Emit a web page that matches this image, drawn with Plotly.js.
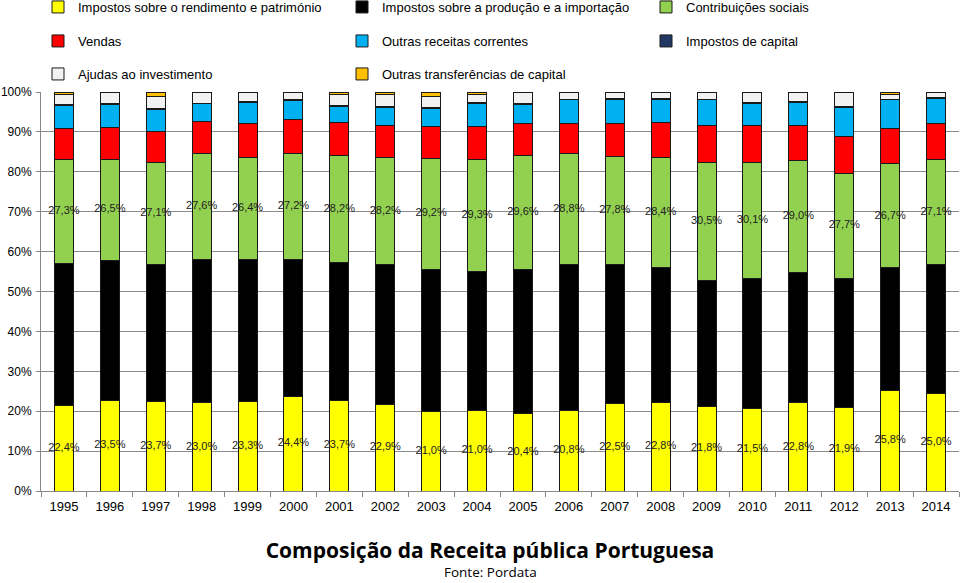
<!DOCTYPE html>
<html>
<head>
<meta charset="utf-8">
<script src="https://cdn.plot.ly/plotly-3.0.1.min.js"></script>
<style>html,body{margin:0;padding:0;background:#fff;}#chart{width:960px;height:583px;}</style>
</head>
<body>
<div id="chart"></div>
<script>
var years = ['1995','1996','1997','1998','1999','2000','2001','2002','2003','2004','2005','2006','2007','2008','2009','2010','2011','2012','2013','2014'];

var rendimento   = [21.5,22.7,22.5,22.1,22.5,23.7,22.7,21.8,20.0,20.3,19.5,20.3,21.9,22.3,21.2,20.7,22.1,20.9,25.2,24.4];
var producao     = [35.4,35.1,34.3,35.9,35.5,34.4,34.5,34.9,35.6,34.7,36.1,36.4,34.9,33.8,31.6,32.6,32.7,32.4,30.7,32.3];
var contribuicoes= [26.2,25.4,25.6,26.6,25.5,26.5,26.9,26.8,27.8,28.2,28.5,27.9,27.1,27.5,29.6,29.1,28.1,26.4,26.1,26.3];
var vendas       = [7.8,7.8,7.8,8.1,8.6,8.6,8.2,8.0,7.9,8.1,8.0,7.6,8.2,8.7,9.3,9.1,8.6,9.2,8.8,9.0];
var outrasCorr   = [5.8,5.8,5.5,4.3,5.2,4.6,4.0,4.6,4.6,5.8,4.8,5.8,6.0,5.8,6.3,5.5,5.9,7.1,7.2,6.4];
var impCapital   = [0.2,0.2,0.2,0.2,0.2,0.2,0.2,0.2,0.2,0.2,0.2,0.2,0.2,0.2,0.2,0.3,0.2,0.4,0.1,0.2];
var ajudas       = [2.4,2.9,3.0,2.8,2.4,2.0,2.8,3.2,2.8,2.1,2.9,1.8,1.7,1.7,1.8,2.7,2.4,3.6,1.2,1.3];
var outrasTransf = [0.7,0.1,1.1,0.0,0.1,0.0,0.7,0.5,1.1,0.6,0.0,0.0,0.0,0.0,0.0,0.0,0.0,0.0,0.7,0.1];

var labelsRendimento = ['22,4%','23,5%','23,7%','23,0%','23,3%','24,4%','23,7%','22,9%','21,0%','21,0%','20,4%','20,8%','22,5%','22,8%','21,8%','21,5%','22,8%','21,9%','25,8%','25,0%'];
var labelsContrib    = ['27,3%','26,5%','27,1%','27,6%','26,4%','27,2%','28,2%','28,2%','29,2%','29,3%','29,6%','28,8%','27,8%','28,4%','30,5%','30,1%','29,0%','27,7%','26,7%','27,1%'];

var yTickVals  = [0,10,20,30,40,50,60,70,80,90,100];
var yTickTexts = ['0%','10%','20%','30%','40%','50%','60%','70%','80%','90%','100%'];

var seriesNames = ['Impostos sobre o rendimento e património','Impostos sobre a produção e a importação','Contribuições sociais','Vendas','Outras receitas correntes','Impostos de capital','Ajudas ao investimento','Outras transferências de capital'];
var seriesData = [rendimento, producao, contribuicoes, vendas, outrasCorr, impCapital, ajudas, outrasTransf];
var seriesColors = ['#FFFF00','#000000','#92D050','#FF0000','#00B0F0','#1F3864','#F2F2F2','#FFC000'];
var legendIds = ['legend','legend','legend','legend2','legend2','legend2','legend3','legend3'];

var traces = [];
for (var i = 0; i < seriesData.length; i++) {
  traces.push({
    type: 'bar', x: years, y: seriesData[i], name: seriesNames[i],
    marker: {color: seriesColors[i], line: {color: '#1a1a1a', width: 1}},
    legend: legendIds[i], hoverinfo: 'x+y+name'
  });
}

var midRend = rendimento.map(function(v){ return v / 2; });
var midContrib = years.map(function(_, k){ return rendimento[k] + producao[k] + contribuicoes[k] / 2; });

traces.push({type:'scatter', mode:'text', x: years, y: midRend, text: labelsRendimento, cliponaxis:false,
  textfont:{family:'Liberation Sans, Arial, sans-serif', size:11, color:'#222'}, showlegend:false, hoverinfo:'skip'});
traces.push({type:'scatter', mode:'text', x: years, y: midContrib, text: labelsContrib, cliponaxis:false,
  textfont:{family:'Liberation Sans, Arial, sans-serif', size:11, color:'#222'}, showlegend:false, hoverinfo:'skip'});

function legendRow(yPix) {
  return {orientation:'h', xref:'container', yref:'container', x: 38/960, y: 1 - yPix/583,
    xanchor:'left', yanchor:'middle', entrywidth: 259, entrywidthmode:'pixels',
    font:{family:'Liberation Sans, Arial, sans-serif', size:13, color:'#000'},
    bgcolor:'rgba(0,0,0,0)', borderwidth:0, traceorder:'normal', itemclick:false};
}

var layout = {
  width: 960, height: 583,
  margin: {l: 41, r: 1, t: 92, b: 92, pad: 0, autoexpand:false},
  paper_bgcolor: '#fff', plot_bgcolor: '#fff',
  barmode: 'stack', bargap: 0.586,
  font: {family: 'Liberation Sans, Arial, sans-serif', size: 13, color: '#000'},
  title: {text: 'Composição da Receita pública Portuguesa', xref:'container', yref:'container',
    x: 490/960, y: 1 - 551/583, xanchor:'center', yanchor:'middle',
    font: {family:'Open Sans, sans-serif', size: 21, weight: 'bold', color:'#000'}},
  annotations: [{text:'Fonte: Pordata', xref:'paper', yref:'paper', x: (490-41)/918, y: -(572-491)/399,
    xanchor:'center', yanchor:'middle', showarrow:false,
    font:{family:'Open Sans, sans-serif', size:13.5, color:'#000'}}],
  showlegend: true,
  legend: legendRow(7),
  legend2: legendRow(41),
  legend3: legendRow(74),
  xaxis: {type:'category', range:[-0.5, 19.5], autorange:false, showline:true, linecolor:'#888', linewidth:1,
    ticks:'outside', tickson:'boundaries', ticklen:5, tickcolor:'#888', automargin:false, ticklabelstandoff:3,
    showgrid:false, tickfont:{size:13, color:'#000'}},
  yaxis: {range:[0,100], autorange:false, tickmode:'array', tickvals:yTickVals, ticktext:yTickTexts,
    showline:true, linecolor:'#888', linewidth:1, ticks:'outside', ticklen:4, tickcolor:'#888', automargin:false,
    ticklabelstandoff:2, gridcolor:'#8c8c8c', gridwidth:1, zeroline:false, tickfont:{size:12, color:'#000'}}
};

Plotly.newPlot('chart', traces, layout, {displayModeBar:false, staticPlot:true});
</script>
</body>
</html>
